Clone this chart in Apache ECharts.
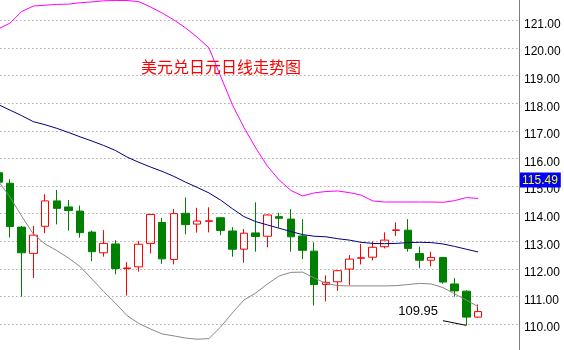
<!DOCTYPE html>
<html><head><meta charset="utf-8">
<script src="https://cdn.jsdelivr.net/npm/echarts@6/dist/echarts.min.js"></script>
<style>html,body{margin:0;padding:0;background:#fff}#c{width:564px;height:350px}</style>
</head><body><div id="c"></div>
<script>
const chartTitle = '美元兑日元日线走势图';
const categories = ['1','2','3','4','5','6','7','8','9','10','11','12','13','14','15','16','17','18','19','20','21','22','23','24','25','26','27','28','29','30','31','32','33','34','35','36','37','38','39','40','41','42','43','44','45'];
const opens  = [115.48,115.10,113.51,112.56,113.54,114.46,114.24,114.09,113.33,112.58,112.90,112.01,112.07,112.92,113.68,112.34,114.01,113.62,113.72,113.85,113.37,112.71,113.30,113.18,113.89,113.80,113.19,112.64,111.43,111.53,111.99,112.38,112.42,112.80,113.39,113.40,112.55,112.31,112.41,111.45,111.19,110.25];
const closes = [115.14,113.53,112.58,113.22,114.46,114.19,114.11,113.31,112.62,112.92,112.01,112.03,112.89,113.97,112.36,114.00,113.60,113.73,113.74,113.39,112.71,113.29,113.17,113.95,113.83,113.16,112.67,111.43,111.51,111.93,112.35,112.40,112.78,113.04,113.41,112.74,112.31,112.41,111.52,111.20,110.25,110.45];
const lows   = [115.10,113.13,110.99,111.67,113.29,113.61,113.38,113.13,112.28,112.44,111.80,111.03,111.90,112.56,112.18,112.16,113.25,113.31,113.32,113.22,112.44,112.22,112.62,112.78,113.49,112.62,112.35,110.67,110.82,111.20,111.40,112.16,112.30,112.74,113.19,112.62,112.02,112.09,111.46,110.99,109.95,110.22];
const highs  = [115.52,115.25,113.55,113.55,114.70,114.86,114.49,114.29,113.39,113.40,113.04,112.24,113.01,113.99,113.85,114.17,114.58,114.21,114.23,113.88,113.51,113.44,114.41,113.97,114.03,114.16,113.80,112.96,111.76,111.95,112.50,112.90,112.99,113.32,113.68,113.80,112.80,112.62,112.42,111.66,111.22,110.71];
const upperBand  = [120.69,120.90,121.32,121.52,121.55,121.58,121.59,121.64,121.67,121.71,121.72,121.72,121.68,121.49,121.27,121.02,120.73,120.39,120.01,118.98,117.95,117.12,116.38,115.72,115.22,114.84,114.64,114.75,114.80,114.82,114.76,114.67,114.46,114.42,114.42,114.42,114.42,114.42,114.41,114.47,114.58,114.55];
const middleBand = [117.95,117.75,117.55,117.33,117.22,117.09,116.94,116.78,116.63,116.47,116.29,116.05,115.86,115.69,115.53,115.35,115.14,114.95,114.75,114.49,114.18,113.89,113.71,113.59,113.47,113.35,113.24,113.18,113.16,113.09,113.04,112.96,112.92,112.91,112.92,112.95,112.96,112.95,112.90,112.81,112.71,112.61];
const lowerBand  = [115.18,114.60,113.91,113.26,112.90,112.66,112.39,112.08,111.63,111.18,110.76,110.31,110.02,109.82,109.64,109.57,109.49,109.45,109.47,109.89,110.40,110.87,111.12,111.45,111.74,111.87,111.88,111.67,111.47,111.39,111.38,111.38,111.38,111.38,111.39,111.43,111.47,111.45,111.32,111.09,110.87,110.63];
const priceMarker = 115.49;
const yMin = 109, yMax = 122, yStep = 1;

const candleData = opens.map((o, i) => [o, closes[i], lows[i], highs[i]]);
const lowVal = Math.min(...lows);
const lowIdx = lows.indexOf(lowVal);

const chart = echarts.init(document.getElementById('c'), null, {renderer: 'canvas'});
chart.setOption({
  animation: false,
  backgroundColor: '#ffffff',
  title: {
    text: chartTitle, left: 141, top: 59, padding: 0,
    textStyle: {color: '#ff0000', fontSize: 16, fontWeight: 'normal', fontFamily: 'Noto Sans CJK SC', lineHeight: 16}
  },
  grid: {left: -7.6, right: 45, top: -7.2, bottom: -1.6, containLabel: false, outerBoundsMode: 'none'},
  xAxis: {type: 'category', data: categories, show: false, boundaryGap: true},
  yAxis: {
    type: 'value', position: 'right', min: yMin, max: yMax, interval: yStep,
    axisLine: {show: true, lineStyle: {color: '#808080', width: 1}},
    axisTick: {show: false},
    axisLabel: {margin: 5, showMinLabel: false,
      formatter: v => '{a|' + v.toFixed(2) + '}',
      rich: {a: {color: '#000', fontSize: 12, fontFamily: 'Liberation Sans', padding: [8, 0, 0, 0]}}},
    splitLine: {show: true, lineStyle: {color: '#808080', width: 1, type: [1, 3]}}
  },
  series: [
    {type: 'line', data: upperBand, symbol: 'none', lineStyle: {color: '#ff00ff', width: 1}, silent: true},
    {type: 'line', data: middleBand, symbol: 'none', lineStyle: {color: '#000080', width: 1}, silent: true},
    {type: 'line', data: lowerBand, symbol: 'none', lineStyle: {color: '#888888', width: 1}, silent: true},
    {
      type: 'candlestick', data: candleData, barWidth: 8, clip: false,
      itemStyle: {color: 'transparent', color0: '#008000', borderColor: '#ff0000', borderColor0: '#008000', borderWidth: 1},
      markLine: {
        silent: true, symbol: ['none', 'none'], animation: false,
        data: [
          {
            yAxis: priceMarker,
            lineStyle: {color: 'rgba(0,0,0,0)', width: 0, opacity: 1},
            label: {show: true, position: 'end', distance: 1, opacity: 1,
              formatter: '{b|' + priceMarker.toFixed(2) + '}',
              rich: {
                b: {backgroundColor: '#0000ff', color: '#ffff00', fontSize: 12, fontFamily: 'Liberation Sans', padding: [2, 3, 1, 2]}
              },
              padding: [15, 0, 0, 0]}
          },
          [
            {coord: [lowIdx, lowVal],
             lineStyle: {color: '#000000', width: 1, type: 'solid'},
             label: {show: true, position: 'end', distance: 5,
               formatter: '{c|' + lowVal.toFixed(2) + '}',
               rich: {c: {color: '#000', fontSize: 13, fontFamily: 'Liberation Sans', padding: [0, 0, 16, 0]}}}},
            {coord: [lowIdx - 2, lowVal + 0.17]}
          ]
        ]
      }
    }
  ]
});
</script>
</body></html>
